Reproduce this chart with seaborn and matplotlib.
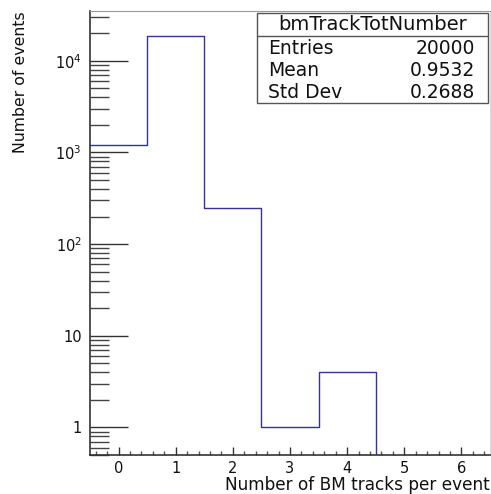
import matplotlib
matplotlib.use("Agg")
import matplotlib.pyplot as plt
import seaborn as sns
import pandas as pd
from matplotlib.ticker import (FixedLocator, FixedFormatter, MultipleLocator,
                               LogLocator, NullFormatter)
from matplotlib.patches import Rectangle
from matplotlib.lines import Line2D

# Number of beam-monitor tracks reconstructed per event
n_tracks = [0, 1, 2, 3, 4, 5, 6]
n_events = [1200, 18545, 250, 1, 4, 0, 0]

xtick_values = [0, 1, 2, 3, 4, 5, 6]
ytick_values = [1, 10, 100, 1000, 10000]
ytick_labels = ["1", "10", r"$\mathregular{10^{2}}$",
                r"$\mathregular{10^{3}}$", r"$\mathregular{10^{4}}$"]

stats_title = "bmTrackTotNumber"
stats_names = ["Entries", "Mean", "Std Dev"]
stats_values = ["20000", "0.9532", "0.2688"]

sns.set_style("ticks")
plt.rcParams["font.family"] = ["DejaVu Sans"]
plt.rcParams["mathtext.fontset"] = "dejavusans"

df = pd.DataFrame({"tracks": n_tracks, "events": n_events})

fig = plt.figure(figsize=(4.91, 4.94), dpi=100)
W, H = 491, 494
ax = fig.add_axes([90 / W, 1 - 455 / H, 400 / W, 444 / H])

ax.set_yscale("log")
sns.histplot(data=df, x="tracks", weights="events", discrete=True,
             element="step", fill=False, color="#333399", linewidth=1.0,
             ax=ax)

ax.set_xlim(-0.5, 6.5)
ax.set_ylim(0.5, 3.5e4)

# x axis: major at integers, 5 subdivisions
ax.xaxis.set_major_locator(FixedLocator(xtick_values))
ax.xaxis.set_minor_locator(MultipleLocator(0.2))
ax.tick_params(axis="x", which="major", direction="in", length=6, width=1,
               color="#333333", labelsize=10.5, pad=4, labelcolor="#111111")
ax.tick_params(axis="x", which="minor", direction="in", length=3, width=1,
               color="#555555")

# y axis: decades with long ticks, 2..9 minor ticks
ax.yaxis.set_major_locator(FixedLocator(ytick_values))
ax.yaxis.set_major_formatter(FixedFormatter(ytick_labels))
ax.yaxis.set_minor_locator(LogLocator(base=10, subs=range(2, 10), numticks=20))
ax.yaxis.set_minor_formatter(NullFormatter())
ax.tick_params(axis="y", which="major", direction="in", length=27, width=1,
               color="#333333", labelsize=10.5, pad=6, labelcolor="#111111")
ax.tick_params(axis="y", which="minor", direction="in", length=14, width=1,
               color="#444444")

for side in ("left", "bottom"):
    ax.spines[side].set_color("#333333")
    ax.spines[side].set_linewidth(1.2)
ax.spines["top"].set_visible(True)
ax.spines["right"].set_visible(True)
ax.spines["top"].set_color("#999999")
ax.spines["right"].set_color("#dddddd")

ax.set_xlabel("Number of BM tracks per event", fontsize=12.2, loc="right",
              color="#111111")
ax.xaxis.set_label_coords(1.0, -0.0685)
ax.xaxis.label.set_va("center")
ax.set_ylabel("Number of events", fontsize=11.3, loc="top", color="#111111")
ax.yaxis.set_label_coords(-0.155, 1.0)

# statistics box
bx0, bx1 = 257 / W, 488 / W
by0, by1 = 1 - 103 / H, 1 - 13 / H
fig.add_artist(Rectangle((bx0, by0), bx1 - bx0, by1 - by0,
                         transform=fig.transFigure, facecolor="white",
                         edgecolor="#555555", linewidth=1.0))
sep_y = 1 - 36 / H
fig.add_artist(Line2D([bx0, bx1], [sep_y, sep_y], transform=fig.transFigure,
                      color="#555555", linewidth=1.0))
fig.text((bx0 + bx1) / 2, 1 - 25 / H, stats_title, ha="center", va="center",
         fontsize=14, color="#111111")
row_y = [48, 70, 92]
for name, val, ry in zip(stats_names, stats_values, row_y):
    fig.text(268 / W, 1 - ry / H, name, ha="left", va="center",
             fontsize=13.5, color="#111111")
    fig.text(475 / W, 1 - ry / H, val, ha="right", va="center",
             fontsize=13.5, color="#111111")

fig.savefig("out.png", dpi=100)
